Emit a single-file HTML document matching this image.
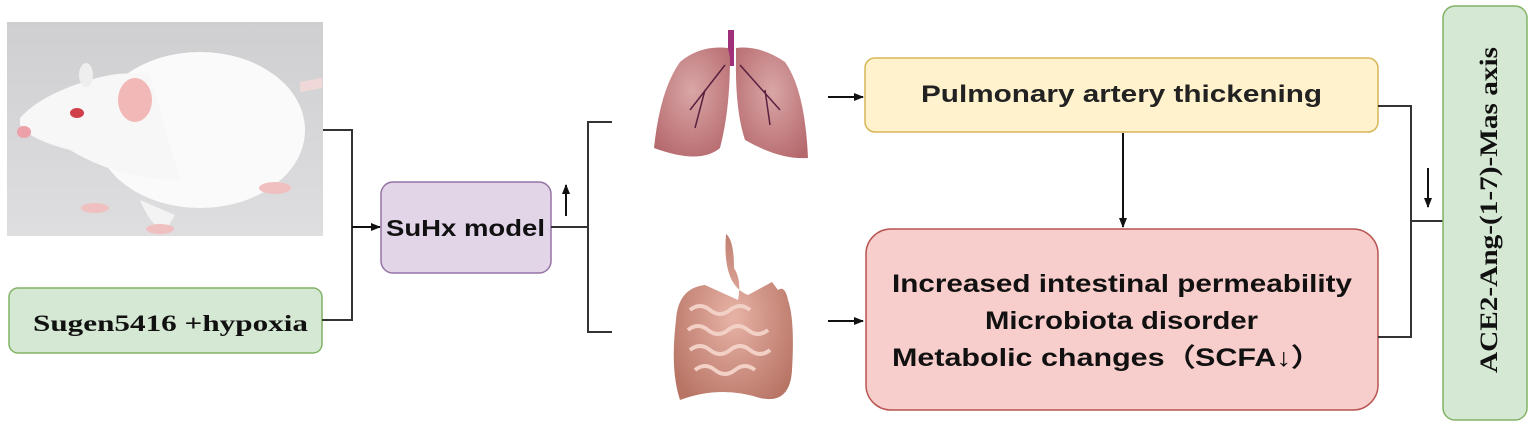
<!DOCTYPE html>
<html><head><meta charset="utf-8"><style>
html,body{margin:0;padding:0;background:#fff;width:1535px;height:429px;overflow:hidden}
svg text{font-family:"Liberation Sans",sans-serif;font-weight:bold;fill:#111}
</style></head><body>
<svg width="1535" height="429" viewBox="0 0 1535 429" xmlns="http://www.w3.org/2000/svg">
<defs>
<marker id="ar" markerWidth="10" markerHeight="10" refX="9" refY="5" orient="auto" markerUnits="userSpaceOnUse"><path d="M0,1 L10,5 L0,9 Z" fill="#111"/></marker>
<linearGradient id="bg" x1="0" y1="0" x2="0" y2="1"><stop offset="0" stop-color="#cfcfd1"/><stop offset="1" stop-color="#dedee0"/></linearGradient>
<radialGradient id="lung" cx="0.5" cy="0.4" r="0.7"><stop offset="0" stop-color="#d9a6a6"/><stop offset="1" stop-color="#b5686c"/></radialGradient>
<radialGradient id="gut" cx="0.5" cy="0.5" r="0.6"><stop offset="0" stop-color="#e7b3a6"/><stop offset="1" stop-color="#b87566"/></radialGradient>
</defs>
<!-- rat photo -->
<rect x="7" y="22" width="316" height="214" fill="url(#bg)"/>
<path d="M300,82 L322,78 L322,88 L300,92Z" fill="#f0d8d8"/>
<ellipse cx="200" cy="130" rx="105" ry="78" fill="#fafafa"/>
<path d="M20,118 Q40,95 90,80 Q120,70 150,75 L180,180 Q120,180 70,150 Q30,140 20,125Z" fill="#f7f7f7"/>
<ellipse cx="135" cy="100" rx="17" ry="22" fill="#f2b8b8"/>
<ellipse cx="86" cy="75" rx="7" ry="12" fill="#eee"/>
<ellipse cx="77" cy="113" rx="7" ry="5" fill="#d0404a"/>
<ellipse cx="24" cy="132" rx="7" ry="6" fill="#eca0a8"/>
<path d="M140,200 Q150,225 165,232 L175,215 Z" fill="#f3f3f3"/>
<ellipse cx="160" cy="229" rx="14" ry="5" fill="#f0c0c0"/>
<ellipse cx="95" cy="208" rx="14" ry="5" fill="#f0c0c0"/>
<ellipse cx="275" cy="188" rx="16" ry="6" fill="#f0c0c0"/>
<!-- sugen box -->
<rect x="9" y="288" width="313" height="65" rx="9" fill="#d5e8d4" stroke="#82b366" stroke-width="1.5"/>
<text x="33" y="331" textLength="275" lengthAdjust="spacingAndGlyphs" style="font-family:'Liberation Serif',serif;font-size:23px">Sugen5416 +hypoxia</text>
<!-- connectors left -->
<path d="M323,130 H352 V320 H322" fill="none" stroke="#333" stroke-width="2"/>
<line x1="352" y1="227" x2="380" y2="227" stroke="#111" stroke-width="2" marker-end="url(#ar)"/>
<rect x="381" y="182" width="170" height="91" rx="12" fill="#e1d5e7" stroke="#9673a6" stroke-width="1.5"/>
<text x="386" y="236" textLength="159" lengthAdjust="spacingAndGlyphs" font-size="23">SuHx model</text>
<line x1="566" y1="216" x2="566" y2="185" stroke="#111" stroke-width="2" marker-end="url(#ar)"/>
<path d="M551,227 H588 M612,122 H588 V332 H612" fill="none" stroke="#333" stroke-width="2"/>
<!-- lungs -->
<rect x="728" y="30" width="6" height="36" fill="#a0307a"/>
<path d="M728,48 Q700,45 680,62 Q660,90 654,148 Q700,165 720,148 Q730,110 730,58Z" fill="url(#lung)"/>
<path d="M736,58 Q735,110 745,140 Q780,160 808,158 Q805,90 785,62 Q760,45 736,48Z" fill="url(#lung)"/>
<path d="M725,65 L690,110 M705,90 L695,128 M740,65 L780,110 M765,90 L770,125" stroke="#5a2040" stroke-width="1.5" fill="none"/>
<!-- intestines -->
<path d="M726,234 Q734,240 734,268 Q742,280 738,300 L705,285 Q678,288 676,320 Q670,370 680,400 Q720,385 760,398 Q790,405 792,370 Q795,320 788,300 Q785,285 778,290 L772,282 L748,295 Q722,285 726,234Z" fill="url(#gut)"/>
<path d="M690,310 q10,-8 20,0 t20,0 t20,0 M688,330 q10,-8 20,0 t20,0 t20,0 t20,0 M690,350 q10,-8 20,0 t20,0 t20,0 t20,0 M695,370 q10,-8 20,0 t20,0 t20,0" stroke="#f3d0c6" stroke-width="4" fill="none"/>
<!-- arrows to boxes -->
<line x1="828" y1="97" x2="863" y2="97" stroke="#111" stroke-width="2" marker-end="url(#ar)"/>
<line x1="828" y1="321" x2="863" y2="321" stroke="#111" stroke-width="2" marker-end="url(#ar)"/>
<rect x="865" y="58" width="513" height="74" rx="10" fill="#fff2cc" stroke="#d6b656" stroke-width="1.5"/>
<text x="921" y="102" textLength="401" lengthAdjust="spacingAndGlyphs" font-size="24" style="font-weight:bold;fill:#222">Pulmonary artery thickening</text>
<line x1="1123" y1="133" x2="1123" y2="227" stroke="#111" stroke-width="2" marker-end="url(#ar)"/>
<rect x="866" y="229" width="512" height="181" rx="25" fill="#f8cecc" stroke="#b85450" stroke-width="1.5"/>
<text x="892" y="292" textLength="460" lengthAdjust="spacingAndGlyphs" font-size="25">Increased intestinal permeability</text>
<text x="985" y="329" textLength="273" lengthAdjust="spacingAndGlyphs" font-size="25">Microbiota disorder</text>
<text x="892" y="366" textLength="430" lengthAdjust="spacingAndGlyphs" font-size="25">Metabolic changes（SCFA↓）</text>
<!-- right -->
<path d="M1378,106 H1411 V337 H1378 M1411,221 H1443" fill="none" stroke="#333" stroke-width="2"/>
<line x1="1428" y1="168" x2="1428" y2="207" stroke="#111" stroke-width="2" marker-end="url(#ar)"/>
<rect x="1443" y="6" width="84" height="414" rx="12" fill="#d5e8d4" stroke="#82b366" stroke-width="1.5"/>
<text transform="translate(1497,373) rotate(-90)" textLength="326" lengthAdjust="spacingAndGlyphs" style="font-family:'Liberation Serif',serif;font-size:25px">ACE2-Ang-(1-7)-Mas axis</text>
</svg>
</body></html>
